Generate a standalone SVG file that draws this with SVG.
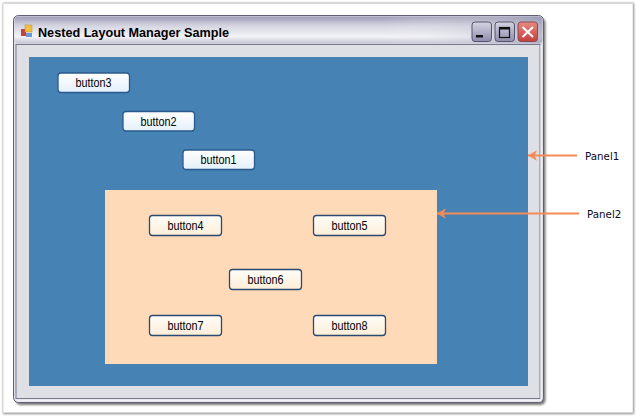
<svg xmlns="http://www.w3.org/2000/svg" width="636" height="417" viewBox="0 0 636 417">
<defs>
<linearGradient id="title" x1="0" y1="0" x2="0" y2="1"><stop offset="0" stop-color="#9c9cb6"/><stop offset="0.35" stop-color="#d6d6e2"/><stop offset="0.75" stop-color="#f2f2f7"/><stop offset="1" stop-color="#c4c4d3"/></linearGradient>
<linearGradient id="titleH" x1="0" y1="0" x2="1" y2="0"><stop offset="0.7" stop-color="#fff" stop-opacity="0"/><stop offset="1" stop-color="#9a9ab4" stop-opacity="0.6"/></linearGradient>
<linearGradient id="btnB" x1="0" y1="0" x2="0" y2="1"><stop offset="0" stop-color="#fff"/><stop offset="1" stop-color="#e4f0fb"/></linearGradient>
<linearGradient id="btnO" x1="0" y1="0" x2="0" y2="1"><stop offset="0" stop-color="#fffdf8"/><stop offset="1" stop-color="#fdeed8"/></linearGradient>
<linearGradient id="ctl" x1="0" y1="0" x2="0" y2="1"><stop offset="0" stop-color="#d4d4e2"/><stop offset="1" stop-color="#8e8eac"/></linearGradient>
<linearGradient id="cls" x1="0" y1="0" x2="0" y2="1"><stop offset="0" stop-color="#e88a80"/><stop offset="1" stop-color="#c4403c"/></linearGradient>
<marker id="arrow" markerUnits="userSpaceOnUse" markerWidth="12" markerHeight="12" refX="0" refY="6" orient="auto"><path d="M0 6 L9 0.8 L6.500 6 L9 11.200 Z" fill="#f58a56"/></marker>
<filter id="soft" x="-5%" y="-5%" width="110%" height="110%"><feGaussianBlur stdDeviation="1.2"/></filter>
</defs>
<style>
.b{rx:3px;stroke-width:1.300}
.blue{fill:url(#btnB);stroke:#2a5a8c}
.orange{fill:url(#btnO);stroke:#2b4a72}
text{font-family:"Liberation Sans",Arial,sans-serif;fill:#000}
.t{font-size:12px;text-anchor:middle}
.lab{font-family:"DejaVu Sans",sans-serif;font-size:10.300px;fill:#0a0a20}
.c{fill:none;stroke:#f58a56;stroke-width:2.200;marker-start:url(#arrow)}
</style>
<rect width="636" height="417" fill="#fff"/>
<g id="page">
<rect x="3" y="3" width="631" height="411" fill="#8c8c8c" filter="url(#soft)"/>
<rect x="3" y="3" width="630" height="410" fill="#d8d8d8"/>
<rect x="3.500" y="4" width="629" height="408" fill="#fff"/>
</g>
<g id="window">
<rect x="15.500" y="18" width="530" height="387" rx="5" fill="#777" filter="url(#soft)"/>
<rect x="13.500" y="15.500" width="530" height="387" rx="5" fill="#dfdfe6" stroke="#5f5f75"/>
<rect x="14.500" y="16.500" width="528" height="27" rx="4" fill="url(#title)"/>
<rect x="14.500" y="16.500" width="528" height="27" rx="4" fill="url(#titleH)"/>
<rect x="16" y="44.500" width="524" height="354" fill="#dfdfe6" stroke="#77778e"/>
<rect x="16.500" y="399.500" width="525" height="2" fill="#f0f0f4"/>
<rect x="540.500" y="45" width="1.500" height="355" fill="#f0f0f4"/>
<g id="icon">
<rect x="21" y="29" width="5" height="7" fill="#c8403c"/>
<rect x="25" y="25" width="7" height="7" fill="#f0c040" stroke="#b08a30" stroke-width="0.5"/>
<rect x="26" y="33" width="6" height="4" fill="#6a9ad0"/>
</g>
<text x="38" y="37" font-family="DejaVu Sans, sans-serif" font-size="12.500" font-weight="bold" fill="#222" textLength="191" lengthAdjust="spacingAndGlyphs">Nested Layout Manager Sample</text>
<g id="controls">
<rect x="472" y="22" width="19.500" height="19.500" rx="3" fill="url(#ctl)" stroke="#55556f"/>
<rect x="476" y="35" width="7" height="2.500" fill="#111"/>
<rect x="495" y="22" width="19.500" height="19.500" rx="3" fill="url(#ctl)" stroke="#55556f"/>
<rect x="499.500" y="27.500" width="10" height="10" fill="none" stroke="#111" stroke-width="1.200"/>
<rect x="499.500" y="27.500" width="10" height="2" fill="#111"/>
<rect x="518" y="22" width="19.500" height="19.500" rx="3" fill="url(#cls)" stroke="#8a4a50"/>
<path d="M522.500 27 L533 37 M533 27 L522.500 37" stroke="#fff" stroke-width="2" fill="none"/>
</g>
</g>
<g id="Panel1-shape"><rect x="29" y="57" width="499" height="329" fill="#4682b4"/></g>
<g id="Panel2-shape"><rect x="105" y="190" width="332" height="174" fill="#ffdab9"/></g>
<g id="button3"><rect class="b blue" x="58" y="73" width="71.500" height="19.500"/><text class="t" x="93.500" y="87" textLength="36" lengthAdjust="spacingAndGlyphs">button3</text></g>
<g id="button2"><rect class="b blue" x="123" y="111.500" width="71.500" height="19.500"/><text class="t" x="158.500" y="125.500" textLength="36" lengthAdjust="spacingAndGlyphs">button2</text></g>
<g id="button1"><rect class="b blue" x="183" y="150" width="71.500" height="19.500"/><text class="t" x="218.500" y="164" textLength="36" lengthAdjust="spacingAndGlyphs">button1</text></g>
<g id="button4"><rect class="b orange" x="149.500" y="215.500" width="72" height="20"/><text class="t" x="185.500" y="230" textLength="36" lengthAdjust="spacingAndGlyphs">button4</text></g>
<g id="button5"><rect class="b orange" x="313.500" y="215.500" width="72" height="20"/><text class="t" x="349.500" y="230" textLength="36" lengthAdjust="spacingAndGlyphs">button5</text></g>
<g id="button6"><rect class="b orange" x="229.500" y="269.500" width="72" height="20"/><text class="t" x="265.500" y="284" textLength="36" lengthAdjust="spacingAndGlyphs">button6</text></g>
<g id="button7"><rect class="b orange" x="149.500" y="315.500" width="72" height="20"/><text class="t" x="185.500" y="330" textLength="36" lengthAdjust="spacingAndGlyphs">button7</text></g>
<g id="button8"><rect class="b orange" x="313.500" y="315.500" width="72" height="20"/><text class="t" x="349.500" y="330" textLength="36" lengthAdjust="spacingAndGlyphs">button8</text></g>
<g id="connectors">
<path class="c" d="M528 155.500 H577"/>
<path class="c" d="M437 213.500 H579"/>
</g>
<g id="Panel1"><text class="lab" x="585" y="159.500">Panel1</text></g>
<g id="Panel2"><text class="lab" x="587" y="217.500">Panel2</text></g>
</svg>
